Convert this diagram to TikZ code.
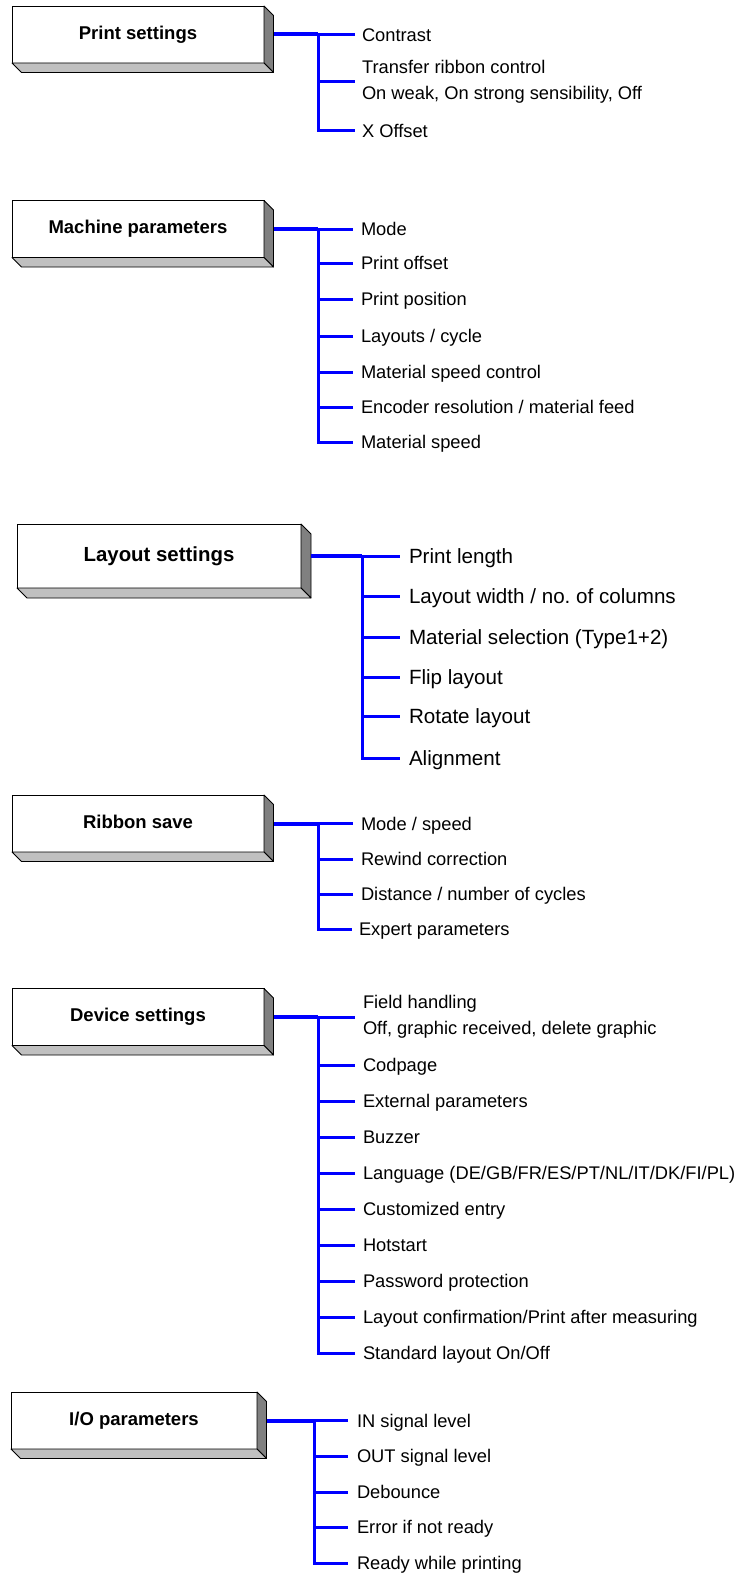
\documentclass[tikz,border=0pt]{standalone}
\usepackage{fontspec}
\setmainfont{Liberation Sans}
\definecolor{lineblue}{RGB}{0,0,255}
\definecolor{darkface}{RGB}{128,128,128}
\definecolor{lightface}{RGB}{192,192,192}
\tikzset{
  box/.style={draw, line width=0.8pt, fill=white, minimum width=252pt, minimum height=57pt,
    inner sep=0pt, outer sep=0pt, font=\bfseries\fontsize{18.5}{22}\selectfont,
    text height=13.5pt, text depth=3.9pt},
  bigbox/.style={box, minimum width=284pt, minimum height=64pt,
    font=\bfseries\fontsize{20.4}{24}\selectfont, text height=14.9pt, text depth=4.3pt},
  item/.style={anchor=west, inner sep=0pt, outer sep=0pt, font=\fontsize{18.3}{26.5}\selectfont,
    text height=17pt, text depth=3.85pt},
  item2/.style={anchor=west, inner sep=0pt, outer sep=0pt, font=\fontsize{18.3}{26.5}\selectfont, align=left},
  bigitem/.style={item, font=\fontsize{20.6}{28}\selectfont, text height=19.2pt, text depth=4.3pt},
  trunk/.style={draw=lineblue, line width=4pt},
  br/.style={draw=lineblue, line width=3pt},
  faceR/.style={fill=darkface, draw=black, line width=0.8pt, line join=round},
  faceB/.style={fill=lightface, draw=black, line width=0.8pt, line join=round}
}
\newcommand\boxfaces[2]{%
  \filldraw[faceR] (#1.north east) -- ([shift={(#2,#2)}]#1.north east) -- ([shift={(#2,#2)}]#1.south east) -- (#1.south east) -- cycle;
  \filldraw[faceB] (#1.south west) -- ([shift={(#2,#2)}]#1.south west) -- ([shift={(#2,#2)}]#1.south east) -- (#1.south east) -- cycle;}
\begin{document}
\begin{tikzpicture}[x=1pt,y=-1pt]
\useasboundingbox (0,0) rectangle (747,1573);

% ---------- Print settings ----------
\node[box] (ps) at (138,34.5) {Print settings};
\boxfaces{ps}{9.5}
\coordinate (j1) at (318,34.5);
\node[item]  (ps1) at (362,34.5) {Contrast};
\node[item2] (ps2) at (362,82) {Transfer ribbon control\\On weak, On strong sensibility, Off};
\node[item]  (ps3) at (362,131) {X Offset};
\draw[trunk] ([xshift=9.5pt]ps.east) -- (j1);
\foreach \n in {ps1,ps2,ps3} \draw[br, shorten >=7pt] (j1) |- (\n.west);

% ---------- Machine parameters ----------
\node[box] (mp) at (138,229) {Machine parameters};
\boxfaces{mp}{9.5}
\coordinate (j2) at (318,229);
\node[item] (mp1) at (361,229) {Mode};
\node[item] (mp2) at (361,263) {Print offset};
\node[item] (mp3) at (361,299) {Print position};
\node[item] (mp4) at (361,336) {Layouts / cycle};
\node[item] (mp5) at (361,372) {Material speed control};
\node[item] (mp6) at (361,407) {Encoder resolution / material feed};
\node[item] (mp7) at (361,442) {Material speed};
\draw[trunk] ([xshift=9.5pt]mp.east) -- (j2);
\foreach \n in {mp1,mp2,mp3,mp4,mp5,mp6,mp7} \draw[br, shorten >=8pt] (j2) |- (\n.west);

% ---------- Layout settings ----------
\node[bigbox] (ls) at (159,556) {Layout settings};
\boxfaces{ls}{10}
\coordinate (j3) at (362,556);
\node[bigitem] (ls1) at (409,556) {Print length};
\node[bigitem] (ls2) at (409,596) {Layout width / no.\ of columns};
\node[bigitem] (ls3) at (409,637) {Material selection (Type1+2)};
\node[bigitem] (ls4) at (409,677) {Flip layout};
\node[bigitem] (ls5) at (409,716) {Rotate layout};
\node[bigitem] (ls6) at (409,758) {Alignment};
\draw[trunk] ([xshift=10pt]ls.east) -- (j3);
\foreach \n in {ls1,ls2,ls3,ls4,ls5,ls6} \draw[br, shorten >=9pt] (j3) |- (\n.west);

% ---------- Ribbon save ----------
\node[box] (rs) at (138,823.5) {Ribbon save};
\boxfaces{rs}{9.5}
\coordinate (j4) at (318,823.5);
\node[item] (rs1) at (361,823.5) {Mode / speed};
\node[item] (rs2) at (361,859) {Rewind correction};
\node[item] (rs3) at (361,894) {Distance / number of cycles};
\node[item] (rs4) at (359,929) {Expert parameters};
\draw[trunk] ([xshift=9.5pt]rs.east) -- (j4);
\foreach \n in {rs1,rs2,rs3} \draw[br, shorten >=8pt] (j4) |- (\n.west);
\draw[br, shorten >=7pt] (j4) |- (rs4.west);

% ---------- Device settings ----------
\node[box] (ds) at (138,1017) {Device settings};
\boxfaces{ds}{9.5}
\coordinate (j5) at (318,1017);
\node[item2] (ds1)  at (363,1017) {Field handling\\Off, graphic received, delete graphic};
\node[item]  (ds2)  at (363,1065) {Codpage};
\node[item]  (ds3)  at (363,1101) {External parameters};
\node[item]  (ds4)  at (363,1137) {Buzzer};
\node[item]  (ds5)  at (363,1173) {Language (DE/GB/FR/ES/PT/NL/IT/DK/FI/PL)};
\node[item]  (ds6)  at (363,1209) {Customized entry};
\node[item]  (ds7)  at (363,1245) {Hotstart};
\node[item]  (ds8)  at (363,1281) {Password protection};
\node[item]  (ds9)  at (363,1317) {Layout confirmation/Print after measuring};
\node[item]  (ds10) at (363,1353) {Standard layout On/Off};
\draw[trunk] ([xshift=9.5pt]ds.east) -- (j5);
\foreach \n in {ds1,ds2,ds3,ds4,ds5,ds6,ds7,ds8,ds9,ds10} \draw[br, shorten >=8pt] (j5) |- (\n.west);

% ---------- I/O parameters ----------
\node[box, minimum width=246pt] (io) at (134,1420.5) {I/O parameters};
\boxfaces{io}{9.5}
\coordinate (j6) at (314,1420.5);
\node[item] (io1) at (357,1420.5) {IN signal level};
\node[item] (io2) at (357,1456) {OUT signal level};
\node[item] (io3) at (357,1492) {Debounce};
\node[item] (io4) at (357,1527) {Error if not ready};
\node[item] (io5) at (357,1563) {Ready while printing};
\draw[trunk] ([xshift=9.5pt]io.east) -- (j6);
\foreach \n in {io1,io2,io3,io4,io5} \draw[br, shorten >=9pt] (j6) |- (\n.west);
\end{tikzpicture}
\end{document}
